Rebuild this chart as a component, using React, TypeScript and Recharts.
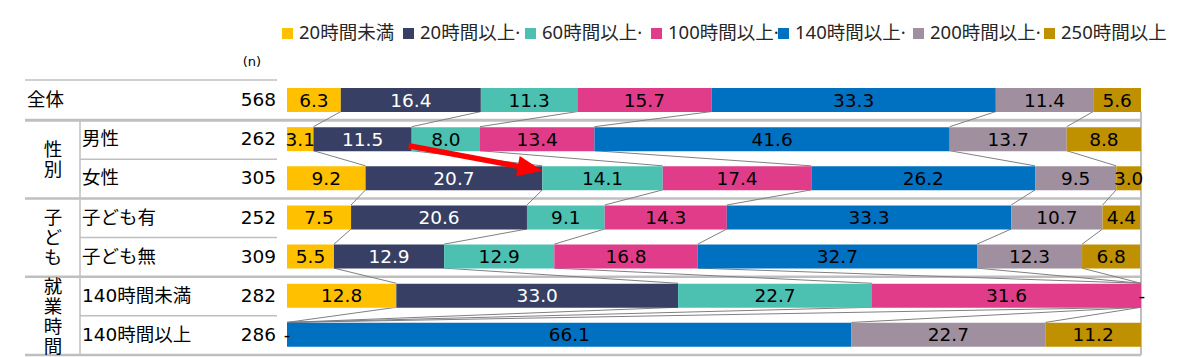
import React from 'react';
import * as RC from 'recharts';
import { BarChart, Bar, XAxis, YAxis, LabelList, Customized } from 'recharts';

// ---------- data ----------
const categories = ['全体', '男性', '女性', '子ども有', '子ども無', '140時間未満', '140時間以上'];
const nValues = [568, 262, 305, 252, 309, 282, 286];

const seriesNames = ['20時間未満', '20時間以上·', '60時間以上·', '100時間以上·', '140時間以上·', '200時間以上·', '250時間以上'];
const seriesColors = ['#FFC000', '#383F64', '#4CC1B1', '#E03C8A', '#0070C0', '#A0909F', '#BF9000'];
const labelColors = ['#000', '#fff', '#000', '#000', '#000', '#000', '#000'];

const hUnder20 = [6.3, 3.1, 9.2, 7.5, 5.5, 12.8, 0];
const h20to60 = [16.4, 11.5, 20.7, 20.6, 12.9, 33.0, 0];
const h60to100 = [11.3, 8.0, 14.1, 9.1, 12.9, 22.7, 0];
const h100to140 = [15.7, 13.4, 17.4, 14.3, 16.8, 31.6, 0];
const h140to200 = [33.3, 41.6, 26.2, 33.3, 32.7, 0, 66.1];
const h200to250 = [11.4, 13.7, 9.5, 10.7, 12.3, 0, 22.7];
const h250plus = [5.6, 8.8, 3.0, 4.4, 6.8, 0, 11.2];
const seriesValues = [hUnder20, h20to60, h60to100, h100to140, h140to200, h200to250, h250plus];

const groupLabels = ['性別', '子ども', '就業時間'];
const groupRows = [[1, 2], [3, 4], [5, 6]];

const arrowFrom = { row: 1, value: 14.6 };
const arrowTo = { row: 2, value: 29.9 };

// ---------- layout ----------
const W = 1200;
const H = 357;
const MARGIN = { top: 80, right: 59, bottom: 3, left: 0 };
const YAXIS_W = 287;
const BAR = 24;
const TABLE_LEFT = 25;
const TABLE_RIGHT = 277;
const GROUP_COL_X = 80;
const LEGEND_ITEM_X = [282, 403, 525, 651, 778, 913, 1044];

const NUM_FONT = "'DejaVu Sans', Verdana, 'Noto Sans CJK JP', sans-serif";
const JP_FONT = "'Noto Sans CJK JP', 'Noto Sans', sans-serif";
const LEGEND_FONT = "'Noto Sans', 'Noto Sans CJK JP', sans-serif";

const data = categories.map((name, i) => {
  const row: any = { name, n: nValues[i] };
  seriesValues.forEach((vals, k) => {
    row['s' + k] = vals[i];
  });
  return row;
});

const R: any = RC;
function usePlotBox() {
  const pa = typeof R.usePlotArea === 'function' ? R.usePlotArea() : undefined;
  if (pa && pa.width) return pa as { x: number; y: number; width: number; height: number };
  return {
    x: MARGIN.left + YAXIS_W,
    y: MARGIN.top,
    width: W - MARGIN.left - YAXIS_W - MARGIN.right,
    height: H - MARGIN.top - MARGIN.bottom,
  };
}

function geom(p: { x: number; y: number; width: number; height: number }) {
  const band = p.height / categories.length;
  const sx = (v: number) => p.x + (v / 100) * p.width;
  const top = (i: number) => p.y + i * band + (band - BAR) / 2;
  const bottom = (i: number) => top(i) + BAR;
  const center = (i: number) => p.y + (i + 0.5) * band;
  const edge = (i: number) => p.y + i * band;
  return { band, sx, top, bottom, center, edge };
}

const cum = (row: number, k: number) => {
  let s = 0;
  for (let j = 0; j <= k; j++) s += seriesValues[j][row];
  return s;
};

function Underlay() {
  const p = usePlotBox();
  const g = geom(p);
  const lineColor = '#BFBFBF';
  const rightX = g.sx(100);
  const els: React.ReactNode[] = [];
  els.push(<line key="top" x1={TABLE_LEFT} x2={TABLE_RIGHT} y1={g.edge(0)} y2={g.edge(0)} stroke={lineColor} strokeWidth={1.5} />);
  [1, 3, 5, 7].forEach((r) => {
    const y = g.edge(r) + 1;
    els.push(<line key={'f' + r} x1={TABLE_LEFT} x2={rightX} y1={y} y2={y} stroke={lineColor} strokeWidth={r === 1 ? 3 : 2.5} />);
  });
  [2, 4, 6].forEach((r) => {
    const y = g.edge(r) + 1;
    els.push(<line key={'p' + r} x1={GROUP_COL_X} x2={TABLE_RIGHT} y1={y} y2={y} stroke={lineColor} strokeWidth={1.5} />);
  });
  els.push(<line key="v1" x1={GROUP_COL_X} x2={GROUP_COL_X} y1={g.edge(1) + 1} y2={g.edge(7) + 1} stroke={lineColor} strokeWidth={1.5} />);
  els.push(<line key="v2" x1={rightX} x2={rightX} y1={g.bottom(0)} y2={g.edge(7) + 1} stroke={lineColor} strokeWidth={2} />);
  els.push(
    <text key="n" x={252} y={g.edge(0) - 14} textAnchor="middle" fontSize={13} fontFamily={NUM_FONT} fill="#000">(n)</text>
  );
  groupLabels.forEach((lab, gi) => {
    const rows = groupRows[gi];
    const cy = (g.edge(rows[0]) + g.edge(rows[rows.length - 1] + 1)) / 2 + 1.5;
    els.push(
      <text
        key={'g' + gi}
        x={53}
        y={cy}
        textAnchor="middle"
        fontSize={18.5}
        fontFamily={JP_FONT}
        fill="#000"
        style={{ writingMode: 'vertical-rl', letterSpacing: '1.5px' } as any}
      >
        {lab}
      </text>
    );
  });
  for (let i = 0; i < categories.length - 1; i++) {
    for (let k = 0; k < seriesValues.length - 1; k++) {
      const a = Math.min(cum(i, k), 100);
      const b = Math.min(cum(i + 1, k), 100);
      els.push(
        <line key={'c' + i + '_' + k} x1={g.sx(a)} y1={g.bottom(i)} x2={g.sx(b)} y2={g.top(i + 1)} stroke="#808080" strokeWidth={1} />
      );
    }
  }
  return <g>{els}</g>;
}

function TopMarks() {
  const p = usePlotBox();
  const g = geom(p);
  // arrow
  const x1 = g.sx(arrowFrom.value) - 3;
  const y1 = g.bottom(arrowFrom.row) - 5;
  const x2 = g.sx(arrowTo.value);
  const y2 = g.center(arrowTo.row) - 7;
  const dx = x2 - x1;
  const dy = y2 - y1;
  const len = Math.sqrt(dx * dx + dy * dy);
  const ux = dx / len;
  const uy = dy / len;
  const headLen = 25;
  const headHalf = 10.5;
  const bx = x2 - ux * headLen;
  const by = y2 - uy * headLen;
  const px = -uy;
  const py = ux;
  const pts = `${x2},${y2} ${bx + px * headHalf},${by + py * headHalf} ${bx - px * headHalf},${by - py * headHalf}`;
  // dashes for zero values
  const dashes: React.ReactNode[] = [];
  const seen = new Set<string>();
  categories.forEach((_, i) => {
    seriesValues.forEach((vals, k) => {
      if (vals[i] === 0) {
        const x = g.sx(cum(i, k));
        const key = i + '_' + Math.round(x);
        if (seen.has(key)) return;
        seen.add(key);
        dashes.push(
          <text key={'d' + key} x={x} y={g.center(i)} textAnchor="middle" dominantBaseline="central" fontSize={18.5} fontFamily={NUM_FONT} fill="#000">
            -
          </text>
        );
      }
    });
  });
  return (
    <g>
      {dashes}
      <line x1={x1} y1={y1} x2={bx + ux * 2} y2={by + uy * 2} stroke="#FF0000" strokeWidth={5.5} />
      <polygon points={pts} fill="#FF0000" />
    </g>
  );
}

const TableTick = (props: any) => {
  const { y, payload } = props;
  const i = typeof props.index === 'number' ? props.index : categories.indexOf(payload.value);
  return (
    <g>
      <text x={i === 0 ? 27 : 82} y={y} dominantBaseline="central" fontSize={18.5} fontFamily={NUM_FONT} fill="#000">
        {payload.value}
      </text>
      <text x={276} y={y} textAnchor="end" dominantBaseline="central" fontSize={18.5} fontFamily={NUM_FONT} fill="#000">
        {nValues[i]}
      </text>
    </g>
  );
};

function SegLabel(props: any) {
  const { x, y, width, height, value, k } = props;
  const v = Number(value);
  if (!v) return null;
  return (
    <text
      x={Number(x) + Number(width) / 2}
      y={Number(y) + Number(height) / 2}
      textAnchor="middle"
      dominantBaseline="central"
      fill={labelColors[k]}
      fontSize={18.5}
      fontFamily={NUM_FONT}
    >
      {v.toFixed(1)}
    </text>
  );
}

function LastSegLabel(props: any) {
  const p = usePlotBox();
  const g = geom(p);
  const isFirstRow = Math.abs(Number(props.y) - g.top(0)) < 3;
  return (
    <g>
      <SegLabel {...props} />
      {isFirstRow ? <TopMarks /> : null}
    </g>
  );
}

function LegendRow() {
  return (
    <div style={{ position: 'absolute', left: 0, top: 22, width: W, height: 22, fontFamily: LEGEND_FONT, fontSize: 18.5, lineHeight: '20px', color: '#262626' }}>
      {seriesNames.map((name, k) => (
        <div
          key={name}
          style={{ position: 'absolute', left: LEGEND_ITEM_X[k], top: 0, display: 'flex', alignItems: 'center', whiteSpace: 'nowrap' }}
        >
          <span style={{ display: 'inline-block', width: 11, height: 11, background: seriesColors[k], marginRight: 6, marginTop: 3 }} />
          <span>{name}</span>
        </div>
      ))}
    </div>
  );
}

export default function App() {
  const last = seriesValues.length - 1;
  return (
    <div style={{ position: 'absolute', left: 0, top: 0, width: W, height: H, background: '#fff' }}>
      <LegendRow />
      <BarChart width={W} height={H} data={data} layout="vertical" margin={MARGIN} barSize={BAR}>
        <XAxis type="number" domain={[0, 100]} allowDataOverflow hide />
        <YAxis type="category" dataKey="name" width={YAXIS_W} axisLine={false} tickLine={false} interval={0} tick={TableTick} />
        <Customized component={<Underlay />} />
        {seriesValues.map((_, k) => (
          <Bar key={k} dataKey={'s' + k} stackId="a" fill={seriesColors[k]} isAnimationActive={false}>
            <LabelList dataKey={'s' + k} content={k === last ? <LastSegLabel k={k} /> : <SegLabel k={k} />} />
          </Bar>
        ))}
      </BarChart>
    </div>
  );
}
